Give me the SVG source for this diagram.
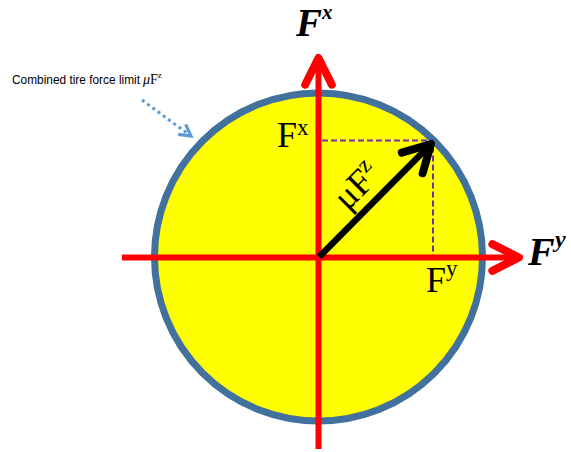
<svg xmlns="http://www.w3.org/2000/svg" width="571" height="452" viewBox="0 0 571 452">
<defs>
<style>
.serif{font-family:"Liberation Serif","Times New Roman",serif;fill:#000}
.bi{font-weight:bold;font-style:italic}
.axis{stroke:#FF0000;stroke-width:6;fill:none}
.dash{stroke:#7030A0;stroke-width:2;stroke-dasharray:6 3;fill:none}
</style>
<marker id="redHead" markerUnits="userSpaceOnUse" orient="auto" refX="0" refY="0" markerWidth="40" markerHeight="40" viewBox="-25 -15 30 30" overflow="visible">
<path d="M-20,-10 L0,0 L-20,10" fill="none" stroke="#FF0000" stroke-width="6" stroke-linecap="round" stroke-linejoin="round"/>
</marker>
<marker id="blackHead" markerUnits="userSpaceOnUse" orient="auto" refX="0" refY="0" markerWidth="40" markerHeight="40" viewBox="-25 -15 30 30" overflow="visible">
<path d="M-20,-11 L0,0 L-20,11" fill="none" stroke="#000" stroke-width="6" stroke-linecap="round" stroke-linejoin="round"/>
</marker>
<marker id="blueHead" markerUnits="userSpaceOnUse" orient="auto" refX="0" refY="0" markerWidth="20" markerHeight="20" viewBox="-12 -8 14 16" overflow="visible">
<path d="M-9,-5 L0,0 L-9,5" fill="none" stroke="#5B9BD5" stroke-width="2.5" stroke-linejoin="miter"/>
</marker>
</defs>

<g id="limit-circle">
<circle cx="318.5" cy="257" r="164" fill="#FFFF00" stroke="#41719C" stroke-width="7"/>
</g>

<g id="connectors">
<path class="dash" d="M322,140.5 H433 V257"/>
<line class="axis" x1="318.5" y1="449" x2="318.5" y2="58" marker-end="url(#redHead)"/>
<line class="axis" x1="122" y1="257.5" x2="519" y2="257.5" marker-end="url(#redHead)"/>
<line x1="319" y1="257" x2="431" y2="144" stroke="#000" stroke-width="6.5" marker-end="url(#blackHead)"/>
<line x1="142" y1="100" x2="191" y2="136" stroke="#5B9BD5" stroke-width="3" stroke-dasharray="3 3.5" marker-end="url(#blueHead)"/>
</g>

<g id="label-axis-fx">
<text class="serif bi" x="296" y="36" font-size="39">F</text>
<text class="serif bi" x="322" y="19" font-size="21">x</text>
</g>
<g id="label-axis-fy">
<text class="serif bi" x="528" y="265" font-size="40">F</text>
<text class="serif bi" x="555" y="247" font-size="24">y</text>
</g>
<g id="label-fx">
<text class="serif" x="277" y="147" font-size="36">F</text>
<text class="serif" x="297" y="135" font-size="23">x</text>
</g>
<g id="label-fy">
<text class="serif" x="426" y="292" font-size="36">F</text>
<text class="serif" x="446" y="276" font-size="23">y</text>
</g>
<g id="label-mufz">
<text class="serif" transform="translate(365,194) rotate(-45)" text-anchor="middle" font-size="36">μF<tspan dy="-14" font-size="23">z</tspan></text>
</g>
<g id="label-annotation">
<text x="12" y="84" font-family="Liberation Sans, Arial, sans-serif" font-size="12" fill="#000" textLength="128" lengthAdjust="spacingAndGlyphs">Combined tire force limit</text>
<text x="143" y="84" class="serif" font-size="14"><tspan font-style="italic">μ</tspan>F<tspan dy="-6" font-size="9">z</tspan></text>
</g>
</svg>
